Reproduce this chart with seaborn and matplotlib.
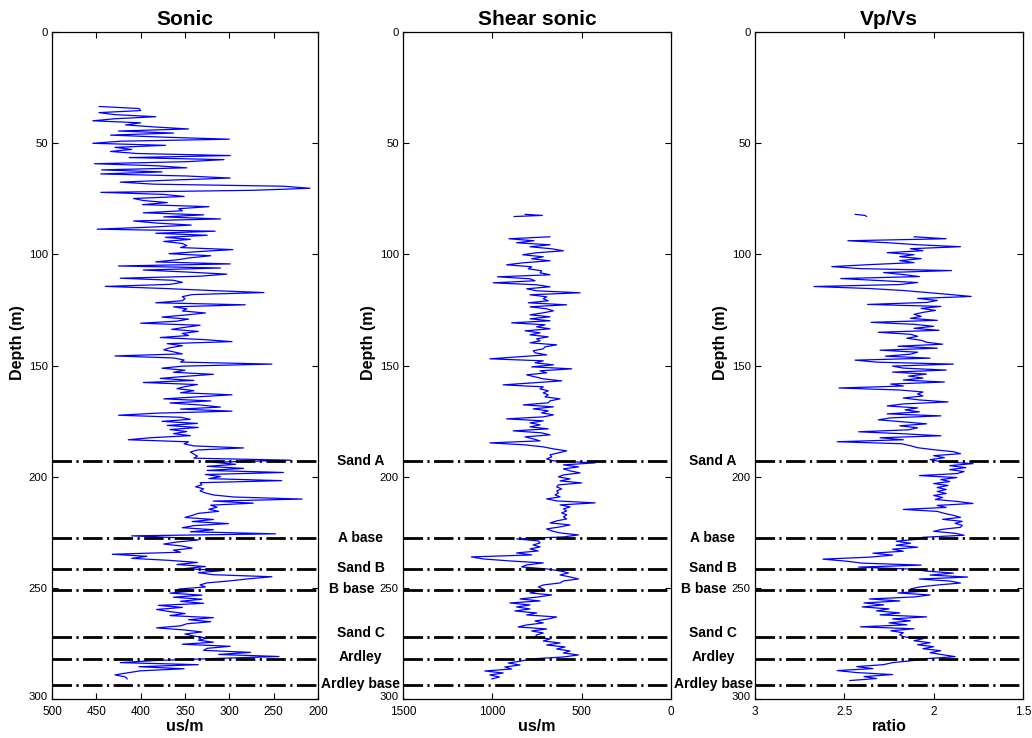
import numpy as np
import pandas as pd
import matplotlib
matplotlib.use("Agg")
import matplotlib.pyplot as plt
import matplotlib.transforms as mtransforms
import seaborn as sns

# ---------------- data ----------------
# Sonic (us/m), regularly sampled from 33.5 m to 291 m
sonic_top_depth, sonic_base_depth = 33.5, 291.0
sonic_us_m = [
    447, 402, 400, 447, 429, 383, 429, 454, 400, 417,
    385, 346, 425, 363, 434, 374, 300, 423, 454, 372,
    429, 410, 434, 404, 299, 413, 306, 348, 452, 382,
    348, 444, 376, 445, 348, 299, 365, 423, 385, 239,
    209, 273, 445, 374, 351, 408, 397, 370, 398, 323,
    357, 353, 397, 329, 374, 310, 408, 383, 343, 389,
    449, 316, 383, 325, 372, 344, 374, 353, 348, 355,
    296, 336, 368, 321, 344, 359, 383, 299, 425, 310,
    397, 346, 303, 333, 423, 363, 353, 367, 440, 374,
    321, 261, 342, 353, 350, 353, 383, 282, 363, 348,
    353, 327, 350, 376, 346, 359, 400, 333, 350, 365,
    335, 353, 346, 378, 329, 297, 370, 353, 367, 374,
    363, 353, 429, 363, 351,
    355, 252, 353, 376, 350, 363, 318, 350, 378, 340,
    397, 336, 350, 359, 340, 355, 297, 336, 374, 321,
    367, 333, 310, 355, 297, 382, 425, 355, 344, 376,
    336, 370, 335, 367, 348, 363, 344, 389, 414, 346,
    351, 340, 284, 336, 344, 340, 336, 340, 231, 318,
    293, 325, 284, 325, 239, 327, 310, 323, 241, 333,
    331, 338, 329, 333, 327, 318, 295, 218, 318, 273,
    321, 314, 323, 312, 335, 342, 350, 318, 342, 301,
    340, 353, 318, 344, 248, 410, 353, 335, 359, 374,
    353, 342, 363, 355, 432, 393, 410, 367, 336, 359,
    327, 350, 308, 335, 318, 252, 278, 299, 325, 333,
    327, 357, 342, 367, 331, 363, 331, 355, 329, 380,
    353, 382, 368, 350, 367, 318, 346, 321, 348, 355,
    382, 351, 331, 350, 340, 325, 335, 318, 353, 299,
    325, 329, 276, 312, 244, 318, 385, 423, 335, 402,
    351, 400, 415, 429, 417, 415,
]

# Shear sonic (us/m): short isolated reading near 82 m, then continuous log
shear_cap_depth = [82.0, 82.5, 83.0]
shear_cap_us_m = [817, 720, 879]
shear_top_depth, shear_base_depth = 92.1, 291.0
shear_us_m = [
    677, 907, 767, 864, 677, 789, 668, 602, 752, 830,
    715, 780, 677, 827, 920, 780, 799, 724, 733, 677,
    971, 789, 761, 995, 752, 677, 808, 752, 509, 789,
    696, 715, 687, 799, 584, 789, 696, 658, 715, 789,
    677, 789, 677, 892, 705, 752, 677, 817, 733, 789,
    687, 752, 733, 789, 640, 705, 715, 771, 761, 696,
    855, 1014, 715, 761, 658,
    780, 556, 733, 696, 808, 761, 715,
    612, 771, 939, 715, 733, 687, 715, 687, 705, 621,
    677, 687, 827, 658, 771, 687, 724, 658, 715, 920,
    715, 789, 733, 789, 687, 883, 724, 677, 817, 771,
    733, 1014, 817, 715, 658, 584, 630, 677, 668, 696,
    658, 425, 602, 518, 602, 565, 509, 602, 630, 565,
    621, 500, 630, 640, 612, 640, 630, 649, 621, 696,
    640, 425, 621, 565, 602, 584, 612, 584, 602, 584,
    640, 677, 565, 621, 696, 668, 621, 518, 602, 864,
    743, 733, 771, 733, 789, 743, 864, 780, 1117, 1051,
    902, 715, 808, 836, 696, 621, 574, 621, 565, 518,
    602, 621, 715, 743, 715, 743, 789, 668, 743, 845,
    733, 902, 789, 864, 789, 874, 752, 808, 640, 687,
    761, 715, 808, 855, 696, 780, 715, 752, 761, 677,
    715, 621, 696, 593, 640, 565, 602, 518, 602, 789,
    836, 911, 845, 930, 892, 1042, 939, 1014, 960, 1004,
]

# Vp/Vs ratio
vpvs_cap_depth = [82.0, 82.5, 83.0]
vpvs_cap_ratio = [2.44, 2.385, 2.375]
vpvs_top_depth, vpvs_base_depth = 92.1, 291.7
vpvs_ratio = [
    2.11, 1.93, 2.48, 2.26, 2.09, 1.85, 2.13, 2.06, 2.26, 2.11,
    2.19, 2.07, 2.19, 2.11, 2.36, 2.57, 2.41, 1.90, 2.28, 2.17,
    2.08, 2.52, 2.30, 2.09, 2.19, 2.67, 2.36, 2.17, 2.04, 1.91,
    1.79, 2.09, 1.98, 2.04, 2.37, 1.96, 2.07, 1.99, 2.06, 2.11,
    2.07, 2.13, 1.98, 2.35, 2.11, 2.00, 2.11, 1.97, 2.31, 2.13,
    2.09, 2.15, 2.07, 2.04, 1.95, 2.20, 1.98, 2.30, 2.09, 2.13,
    2.27, 2.02, 2.44, 2.32, 1.89, 2.23,
    2.17, 1.93, 2.23, 2.04, 2.14, 2.06, 2.17, 1.94, 2.24, 2.17,
    2.53, 2.19, 2.06, 2.09, 2.06, 2.17, 2.08, 1.92, 2.17, 2.26,
    2.09, 2.16, 2.08, 2.26, 1.96, 2.24, 2.31, 2.17, 2.04, 2.19,
    2.09, 2.14, 2.42, 2.17, 1.96, 2.30, 2.17, 2.54, 2.18, 2.13,
    2.09, 2.00, 1.89, 1.85, 2.00, 1.94, 2.02, 1.96, 1.78, 1.91,
    1.82, 1.91, 1.83, 1.87, 2.08, 1.87, 1.96, 1.91, 2.00, 1.92,
    1.98, 1.93, 1.98, 1.93, 2.00, 1.95, 1.99, 1.87, 1.78, 1.98,
    1.93, 2.17, 1.98, 1.94, 1.89, 1.85, 1.95, 1.84, 1.88, 1.84,
    1.85, 1.95, 2.00, 1.88, 1.83, 2.06, 2.09, 2.21, 2.13, 2.21,
    2.09, 2.23, 2.17, 2.34, 2.23, 2.36, 2.62, 2.49, 2.40, 2.07,
    2.42, 2.13, 2.04, 1.89, 2.02, 1.81, 2.08, 1.91, 1.85, 1.98,
    2.08, 2.13, 2.04, 2.20, 2.02, 2.11, 2.36, 2.19, 2.39, 2.28,
    2.40, 2.25, 2.32, 2.19, 2.30, 2.04, 2.23, 2.13, 2.25, 2.15,
    2.41, 2.11, 2.24, 2.17, 2.19, 2.17, 2.06, 2.11, 2.02, 2.09,
    2.00, 2.06, 1.96, 2.02, 1.95, 1.88, 2.04, 2.12, 2.23, 2.28,
    2.43, 2.34, 2.54, 2.43, 2.23, 2.39, 2.32, 2.47,
]

marker_names = ["Sand A", "A base", "Sand B", "B base", "Sand C", "Ardley", "Ardley base"]
marker_depths = [193.0, 227.5, 241.5, 251.0, 272.0, 282.0, 293.5]

titles = ["Sonic", "Shear sonic", "Vp/Vs"]
xlabels = ["us/m", "us/m", "ratio"]
xlims = [(500, 200), (1500, 0), (3, 1.5)]
xtick_values = [[500, 450, 400, 350, 300, 250, 200], [1500, 1000, 500, 0], [3, 2.5, 2, 1.5]]
xtick_labels = [["500", "450", "400", "350", "300", "250", "200"],
                ["1500", "1000", "500", "0"],
                ["3", "2.5", "2", "1.5"]]
depth_ticks = [0, 50, 100, 150, 200, 250, 300]

# ---------------- build frames ----------------
def log_frame(values, top, base):
    return pd.DataFrame({"depth": np.linspace(top, base, len(values)), "value": values})

panels = [
    [log_frame(sonic_us_m, sonic_top_depth, sonic_base_depth)],
    [pd.DataFrame({"depth": shear_cap_depth, "value": shear_cap_us_m}),
     log_frame(shear_us_m, shear_top_depth, shear_base_depth)],
    [pd.DataFrame({"depth": vpvs_cap_depth, "value": vpvs_cap_ratio}),
     log_frame(vpvs_ratio, vpvs_top_depth, vpvs_base_depth)],
]

# ---------------- figure ----------------
sns.set_style("ticks")
plt.rcParams["font.family"] = ["Liberation Sans", "DejaVu Sans"]
plt.rcParams["text.color"] = "black"
plt.rcParams["axes.labelcolor"] = "black"
plt.rcParams["xtick.color"] = "black"
plt.rcParams["ytick.color"] = "black"

W, H = 1032, 738
fig = plt.figure(figsize=(W / 100, H / 100), dpi=100)
fig.patch.set_facecolor("white")

ax_px = [(52, 266), (403, 268), (755, 268)]
top_px, bot_px = 32, 699
axes = []
for (left, width) in ax_px:
    ax = fig.add_axes([left / W, 1 - bot_px / H, width / W, (bot_px - top_px) / H])
    axes.append(ax)

dash_style = (0, (7.0, 1.6, 0.8, 1.6))
for i, ax in enumerate(axes):
    for df in panels[i]:
        sns.lineplot(data=df, x="value", y="depth", sort=False, estimator=None,
                     orient="y", color="#0000ff", linewidth=0.9, ax=ax, zorder=2)
    for d in marker_depths:
        ax.axhline(d, color="black", linewidth=2.0, linestyle=dash_style, zorder=3)
    ax.set_xlim(*xlims[i])
    ax.set_ylim(300, 0)
    ax.set_xticks(xtick_values[i])
    ax.set_xticklabels(xtick_labels[i])
    ax.set_yticks(depth_ticks)
    ax.set_yticklabels([str(t) for t in depth_ticks])
    ax.tick_params(direction="in", top=True, right=True, length=4, width=0.8,
                   labelsize=8.5, colors="black")
    ax.tick_params(axis="x", pad=5)
    ax.tick_params(axis="y", pad=3, labelsize=8.2)
    # the bottom depth label sits just above the x tick labels, as in the reference
    bottom_label = ax.get_yticklabels()[-1]
    bottom_label.set_transform(bottom_label.get_transform()
                               + mtransforms.ScaledTranslation(0, 2 / 72, fig.dpi_scale_trans))
    for s in ax.spines.values():
        s.set_visible(True)
        s.set_color("black")
        s.set_linewidth(0.9)
    ax.set_title(titles[i], fontsize=15, fontweight="bold", pad=5, color="black")
    ax.set_xlabel(xlabels[i], fontsize=11.5, fontweight="bold")
    ax.xaxis.set_label_coords(0.5, -0.03)
    ax.set_ylabel("Depth (m)", fontsize=11.5, fontweight="bold")
    ax.yaxis.set_label_coords(-27 / ax_px[i][1], 0.535)
    ax.grid(False)

# marker labels in the gaps between panels (small nudges, in px, as in the reference)
gap_centres = [(318 + 403) / 2, (671 + 755) / 2]
label_nudge = {"B base": (-9, 1), "Sand B": (0, 1), "Sand C": (0, 4),
               "Ardley": (0, 1.5), "Ardley base": (0, 1)}
trans = mtransforms.blended_transform_factory(fig.transFigure, axes[0].transData)
for xc in gap_centres:
    for name, d in zip(marker_names, marker_depths):
        dx, dy = label_nudge.get(name, (0, 0))
        off = mtransforms.offset_copy(trans, fig=fig, x=dx * 0.72, y=dy * 0.72, units="points")
        fig.text(xc / W, d, name, transform=off, ha="center", va="center",
                 fontsize=10, fontweight="bold")

fig.savefig("out.png", dpi=100, facecolor="white")
